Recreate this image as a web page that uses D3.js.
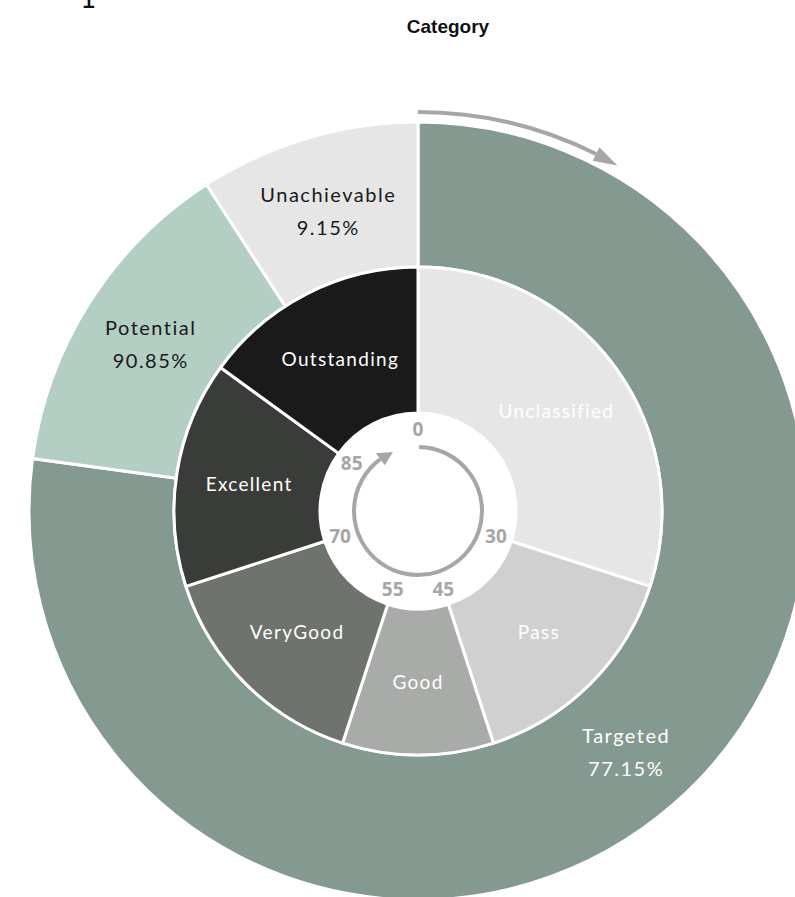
<!DOCTYPE html>
<html><head><meta charset="utf-8">
<script src="https://cdn.jsdelivr.net/npm/d3@7"></script>
<style>html,body{margin:0;padding:0;background:#fff;}svg{display:block;}</style>
</head><body><svg id="c" width="795" height="897"></svg>
<script>
const outerCategories = ["Targeted", "Potential", "Unachievable"];
const outerValues = [77.15, 13.70, 9.15];
const outerLabelValues = ["77.15%", "90.85%", "9.15%"];
const outerColors = ["#84998f", "#b3cec3", "#e6e6e6"];
const outerTextColors = ["#ffffff", "#1a1a1a", "#1a1a1a"];

const innerCategories = ["Unclassified", "Pass", "Good", "VeryGood", "Excellent", "Outstanding"];
const innerValues = [30, 15, 10, 15, 15, 15];
const innerColors = ["#e6e6e6", "#d0d0d0", "#a9aba8", "#6f736e", "#3a3c39", "#1a1a1a"];
const tickLabels = ["0", "30", "45", "55", "70", "85"];

const svg = d3.select("#c");
const cx = 418, cy = 511;
const g = svg.append("g").attr("transform", `translate(${cx},${cy})`);

svg.append("text").attr("x", 448).attr("y", 33).attr("text-anchor", "middle")
  .attr("font-family", "Liberation Sans, Arial, sans-serif").attr("font-weight", "bold")
  .attr("font-size", 19).attr("fill", "#111").text("Category");
svg.append("text").attr("x", 88).attr("y", 8).attr("text-anchor", "middle")
  .attr("font-family", "DejaVu Sans Mono, monospace").attr("font-size", 26).attr("fill", "#111").text("1");

const pie = d3.pie().sort(null).value(d => d).startAngle(0).endAngle(2 * Math.PI);
const rInIn = 98, rInOut = 244, rOutOut = 389;
const arcInner = d3.arc().innerRadius(rInIn).outerRadius(rInOut);
const arcOuter = d3.arc().innerRadius(rInOut).outerRadius(rOutOut);
const fontF = "Lato, 'Open Sans', sans-serif";

const outerArcs = pie(outerValues);
g.selectAll("path.o").data(outerArcs).join("path").attr("class", "o")
  .attr("d", arcOuter).attr("fill", (d, i) => outerColors[i])
  .attr("stroke", "#fff").attr("stroke-width", 3);

const innerArcs = pie(innerValues);
g.selectAll("path.i").data(innerArcs).join("path").attr("class", "i")
  .attr("d", arcInner).attr("fill", (d, i) => innerColors[i])
  .attr("stroke", "#fff").attr("stroke-width", 3);

// outer labels
outerArcs.forEach((d, i) => {
  const [x, y] = arcOuter.centroid(d);
  const t = g.append("text").attr("text-anchor", "middle").attr("font-family", fontF)
    .attr("font-size", 20).attr("letter-spacing", 1.5).attr("fill", outerTextColors[i]);
  t.append("tspan").attr("x", x).attr("y", y - 6).text(outerCategories[i]);
  t.append("tspan").attr("x", x).attr("y", y + 27).text(outerLabelValues[i]);
});

// inner labels
innerArcs.forEach((d, i) => {
  const [x, y] = arcInner.centroid(d);
  g.append("text").attr("x", x).attr("y", y + 7).attr("text-anchor", "middle")
    .attr("font-family", fontF).attr("font-size", 19).attr("letter-spacing", 1.3).attr("fill", "#ffffff")
    .text(innerCategories[i]);
});

// tick labels at boundaries
const rTick = 82;
innerArcs.forEach((d, i) => {
  const a = d.startAngle;
  const x = rTick * Math.sin(a), y = -rTick * Math.cos(a);
  g.append("text").attr("x", x).attr("y", y + 7).attr("text-anchor", "middle")
    .attr("font-family", "'Open Sans', sans-serif").attr("font-weight", "bold")
    .attr("font-size", 19).attr("fill", "#a6a6a6").text(tickLabels[i]);
});

// curved arrows
function curvedArrow(r, a0, a1, aTip, headW, color, sw) {
  const p = d3.path();
  p.arc(0, 0, r, a0 - Math.PI / 2, a1 - Math.PI / 2, false);
  g.append("path").attr("d", p.toString()).attr("fill", "none")
    .attr("stroke", color).attr("stroke-width", sw);
  const pt = (rr, a) => [rr * Math.sin(a), -rr * Math.cos(a)];
  const pts = [pt(r - headW / 2, a1), pt(r, aTip), pt(r + headW / 2, a1)];
  g.append("path").attr("d", "M" + pts.map(q => q.join(",")).join("L") + "Z").attr("fill", color);
}
const deg = Math.PI / 180;
curvedArrow(399, 0, 26.5 * deg, 30 * deg, 15, "#a6a6a6", 4);
curvedArrow(64, 1 * deg, 324 * deg, 337 * deg, 15, "#a6a6a6", 4);
</script></body></html>
